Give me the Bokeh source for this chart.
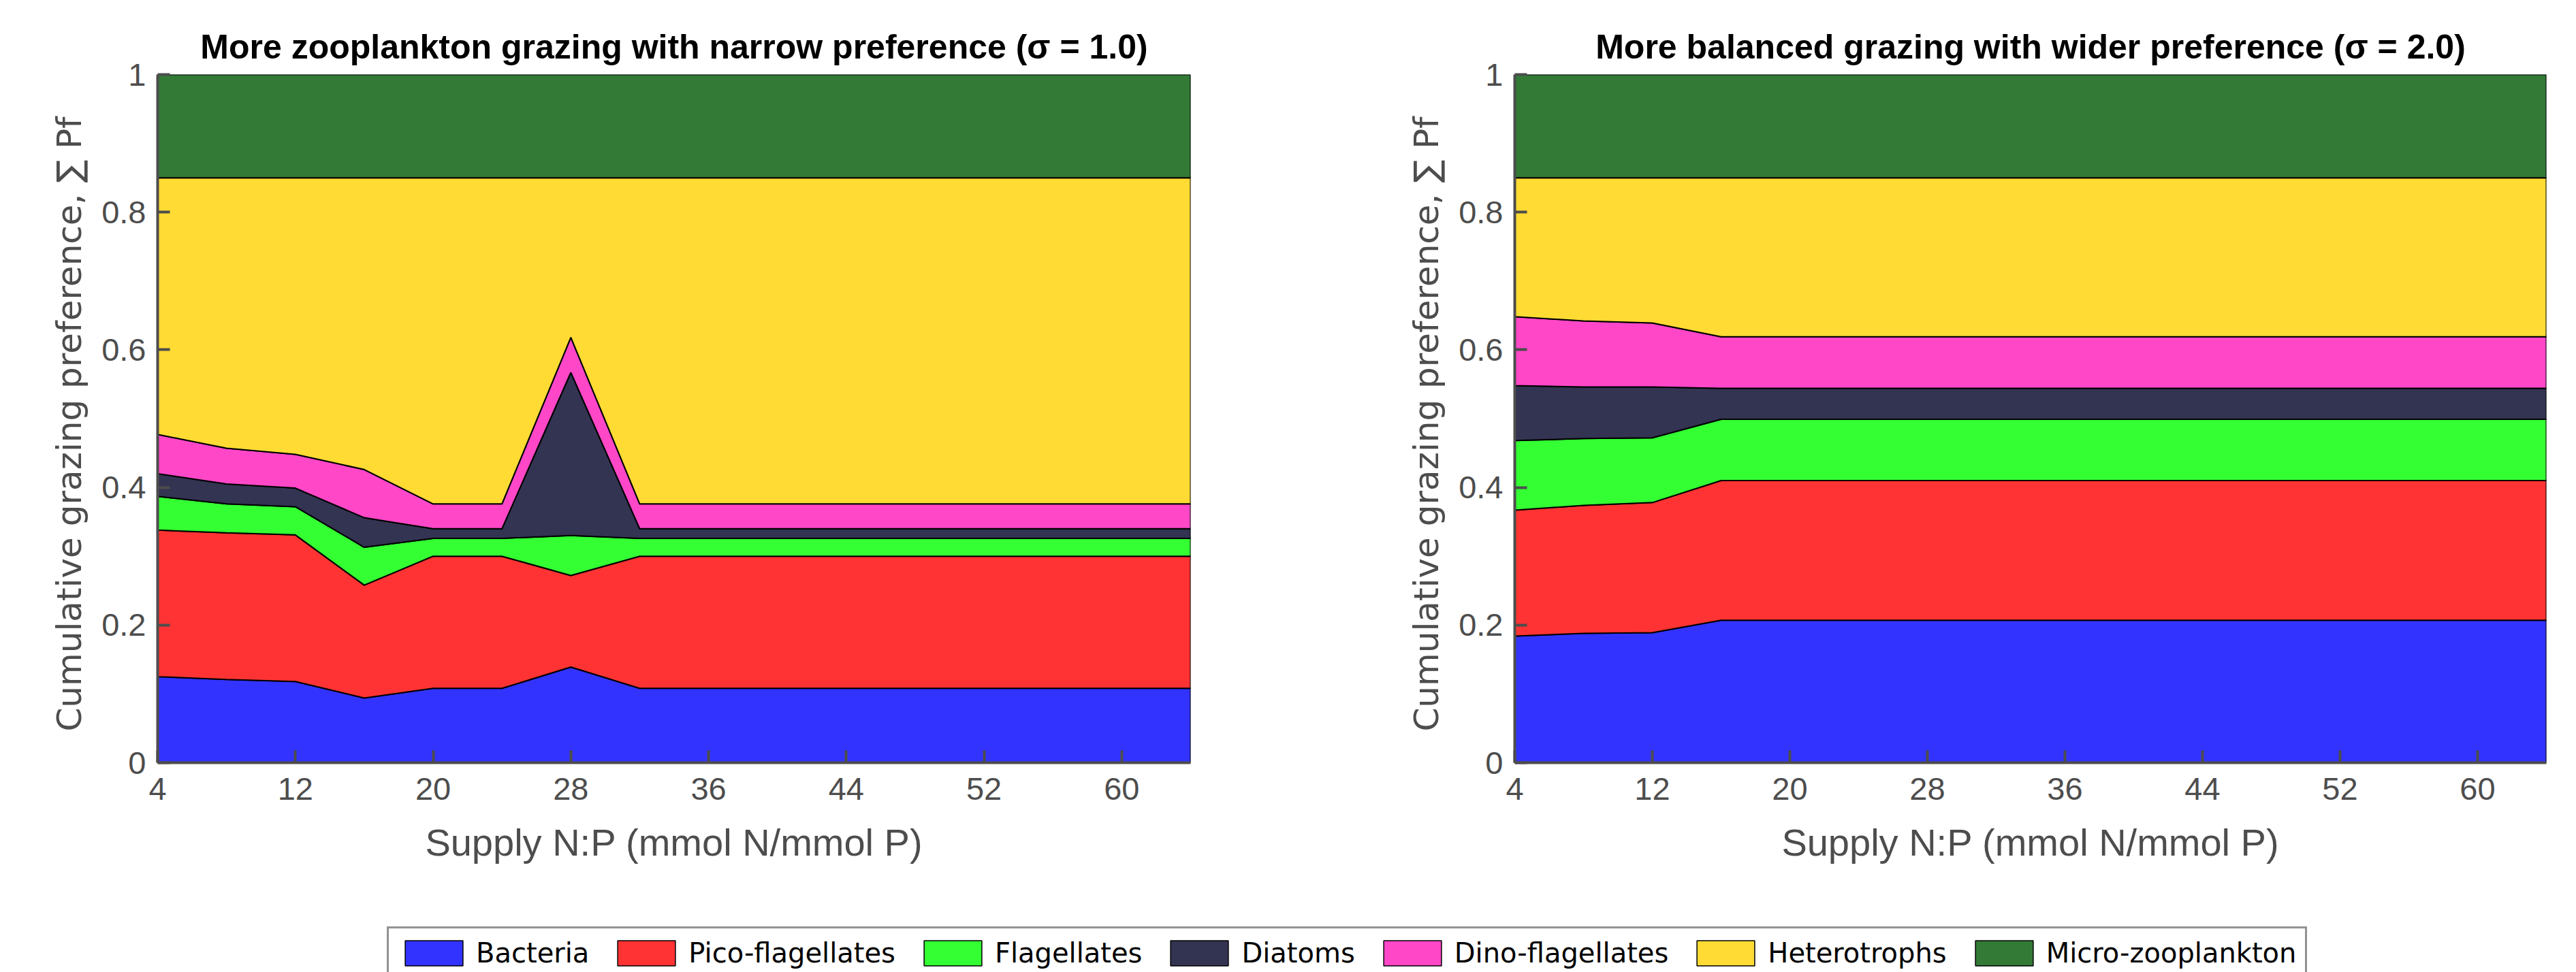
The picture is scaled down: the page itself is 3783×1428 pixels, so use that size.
import numpy as np
from bokeh.plotting import figure
from bokeh.models import Range1d, FixedTicker, Legend, LegendItem
from bokeh.layouts import row, column
from bokeh.embed import file_html
from bokeh.resources import INLINE

# ---------------- data ----------------
supply_np = [4, 8, 12, 16, 20, 24, 28, 32, 36, 40, 44, 48, 52, 56, 60, 64]

groups = ["Bacteria", "Pico-flagellates", "Flagellates", "Diatoms",
          "Dino-flagellates", "Heterotrophs", "Micro-zooplankton"]
colors = ["#3333ff", "#ff3333", "#33ff33", "#333352", "#ff47c8", "#ffdb33", "#337a37"]

# narrow preference (sigma = 1.0): grazing preference of each prey group
narrow_bacteria = [0.125, 0.121, 0.118, 0.094, 0.108, 0.108, 0.139, 0.108,
                   0.108, 0.108, 0.108, 0.108, 0.108, 0.108, 0.108, 0.108]
narrow_pico = [0.213, 0.213, 0.213, 0.164, 0.192, 0.192, 0.133, 0.192,
               0.192, 0.192, 0.192, 0.192, 0.192, 0.192, 0.192, 0.192]
narrow_flag = [0.049, 0.042, 0.041, 0.055, 0.026, 0.026, 0.058, 0.026,
               0.026, 0.026, 0.026, 0.026, 0.026, 0.026, 0.026, 0.026]
narrow_diatoms = [0.033, 0.029, 0.027, 0.043, 0.014, 0.014, 0.237, 0.014,
                  0.014, 0.014, 0.014, 0.014, 0.014, 0.014, 0.014, 0.014]
narrow_dino = [0.057, 0.052, 0.049, 0.070, 0.036, 0.036, 0.051, 0.036,
               0.036, 0.036, 0.036, 0.036, 0.036, 0.036, 0.036, 0.036]
narrow_hetero = [0.373, 0.393, 0.402, 0.424, 0.474, 0.474, 0.232, 0.474,
                 0.474, 0.474, 0.474, 0.474, 0.474, 0.474, 0.474, 0.474]
narrow_micro = [0.150, 0.150, 0.150, 0.150, 0.150, 0.150, 0.150, 0.150,
                0.150, 0.150, 0.150, 0.150, 0.150, 0.150, 0.150, 0.150]

# wider preference (sigma = 2.0)
wide_bacteria = [0.184, 0.188, 0.189, 0.207, 0.207, 0.207, 0.207, 0.207,
                 0.207, 0.207, 0.207, 0.207, 0.207, 0.207, 0.207, 0.207]
wide_pico = [0.183, 0.186, 0.189, 0.203, 0.203, 0.203, 0.203, 0.203,
             0.203, 0.203, 0.203, 0.203, 0.203, 0.203, 0.203, 0.203]
wide_flag = [0.101, 0.097, 0.094, 0.089, 0.089, 0.089, 0.089, 0.089,
             0.089, 0.089, 0.089, 0.089, 0.089, 0.089, 0.089, 0.089]
wide_diatoms = [0.080, 0.075, 0.074, 0.045, 0.045, 0.045, 0.045, 0.045,
                0.045, 0.045, 0.045, 0.045, 0.045, 0.045, 0.045, 0.045]
wide_dino = [0.100, 0.096, 0.093, 0.075, 0.075, 0.075, 0.075, 0.075,
             0.075, 0.075, 0.075, 0.075, 0.075, 0.075, 0.075, 0.075]
wide_hetero = [0.202, 0.208, 0.211, 0.231, 0.231, 0.231, 0.231, 0.231,
               0.231, 0.231, 0.231, 0.231, 0.231, 0.231, 0.231, 0.231]
wide_micro = [0.150, 0.150, 0.150, 0.150, 0.150, 0.150, 0.150, 0.150,
              0.150, 0.150, 0.150, 0.150, 0.150, 0.150, 0.150, 0.150]

x_ticks = [4, 12, 20, 28, 36, 44, 52, 60]
y_ticks = [0, 0.2, 0.4, 0.6, 0.8, 1]
y_tick_labels = ["0", "0.2", "0.4", "0.6", "0.8", "1"]

title_narrow = "More zooplankton grazing with narrow preference (\u03c3 = 1.0)"
title_wide = "More balanced grazing with wider preference (\u03c3 = 2.0)"
x_label = "Supply N:P (mmol N/mmol P)"
y_label = "Cumulative grazing preference,  \u2211 Pf"

FONT = "Liberation Sans"
WIDE_FONT = "DejaVu Sans"
GREY = "#4d4d4d"


def make_panel(title, shares, width, border_left, border_right):
    p = figure(width=width, height=1300, x_range=Range1d(4, 64), y_range=Range1d(0, 1),
               output_backend="svg", toolbar_location=None, title=title,
               min_border_left=border_left, min_border_right=border_right,
               min_border_top=109, min_border_bottom=180)
    x = np.array(supply_np, dtype=float)
    lower = np.zeros(len(x))
    for vals, col in zip(shares, colors):
        upper = lower + np.array(vals)
        xs = list(x) + list(x[::-1])
        ys = list(upper) + list(lower[::-1])
        p.patch(xs, ys, fill_color=col, line_color="black", line_width=2)
        lower = upper

    p.outline_line_color = None
    p.xgrid.visible = False
    p.ygrid.visible = False
    p.background_fill_color = "white"

    p.title.text_font = FONT
    p.title.text_font_size = "50px"
    p.title.text_font_style = "bold"
    p.title.text_color = "black"
    p.title.align = "center"
    p.title.standoff = 26

    for ax in (p.xaxis, p.yaxis):
        ax.axis_line_color = GREY
        ax.axis_line_width = 4
        ax.major_tick_line_color = GREY
        ax.major_tick_line_width = 4
        ax.major_tick_in = 18
        ax.major_tick_out = 0
        ax.minor_tick_line_color = None
        ax.major_label_text_font = FONT
        ax.major_label_text_font_size = "47px"
        ax.major_label_text_color = GREY
        ax.axis_label_text_font_style = "normal"
        ax.axis_label_text_color = GREY

    p.xaxis.ticker = FixedTicker(ticks=x_ticks)
    p.yaxis.ticker = FixedTicker(ticks=y_ticks)
    p.yaxis.major_label_overrides = dict(zip(y_ticks, y_tick_labels))
    p.xaxis.major_label_standoff = 22
    p.yaxis.major_label_standoff = 17
    p.xaxis.axis_label = x_label
    p.yaxis.axis_label = y_label
    p.xaxis.axis_label_text_font = FONT
    p.yaxis.axis_label_text_font = WIDE_FONT
    p.xaxis.axis_label_text_font_size = "56px"
    p.yaxis.axis_label_text_font_size = "50px"
    p.xaxis.axis_label_standoff = 28
    p.yaxis.axis_label_standoff = 15
    return p


left = make_panel(title_narrow,
                  [narrow_bacteria, narrow_pico, narrow_flag, narrow_diatoms,
                   narrow_dino, narrow_hetero, narrow_micro],
                  1848, 231, 100)
right = make_panel(title_wide,
                   [wide_bacteria, wide_pico, wide_flag, wide_diatoms,
                    wide_dino, wide_hetero, wide_micro],
                   1927, 376, 36)

# ---------------- legend strip ----------------
lf = figure(width=3775, height=128, x_range=Range1d(0, 1), y_range=Range1d(0, 1),
            output_backend="svg", toolbar_location=None, min_border=0,
            x_axis_location=None, y_axis_location=None)
lf.outline_line_color = None
lf.grid.visible = False
items = []
for name, col in zip(groups, colors):
    r = lf.quad(left=[-3], right=[-2], bottom=[-3], top=[-2],
                fill_color=col, line_color="black", line_width=1.5)
    items.append(LegendItem(label=name, renderers=[r]))
leg = Legend(items=items, orientation="horizontal", location=(568, -11),
             glyph_width=106, glyph_height=46, label_height=46, label_standoff=9,
             spacing=31, padding=13, margin=0,
             border_line_color="#262626", border_line_width=3,
             background_fill_color="white", background_fill_alpha=1.0,
             label_text_font=WIDE_FONT, label_text_font_size="40px",
             label_text_color="black")
lf.add_layout(leg)

layout = column(row(left, right), lf)
open("out.html", "w").write(file_html(layout, INLINE))
